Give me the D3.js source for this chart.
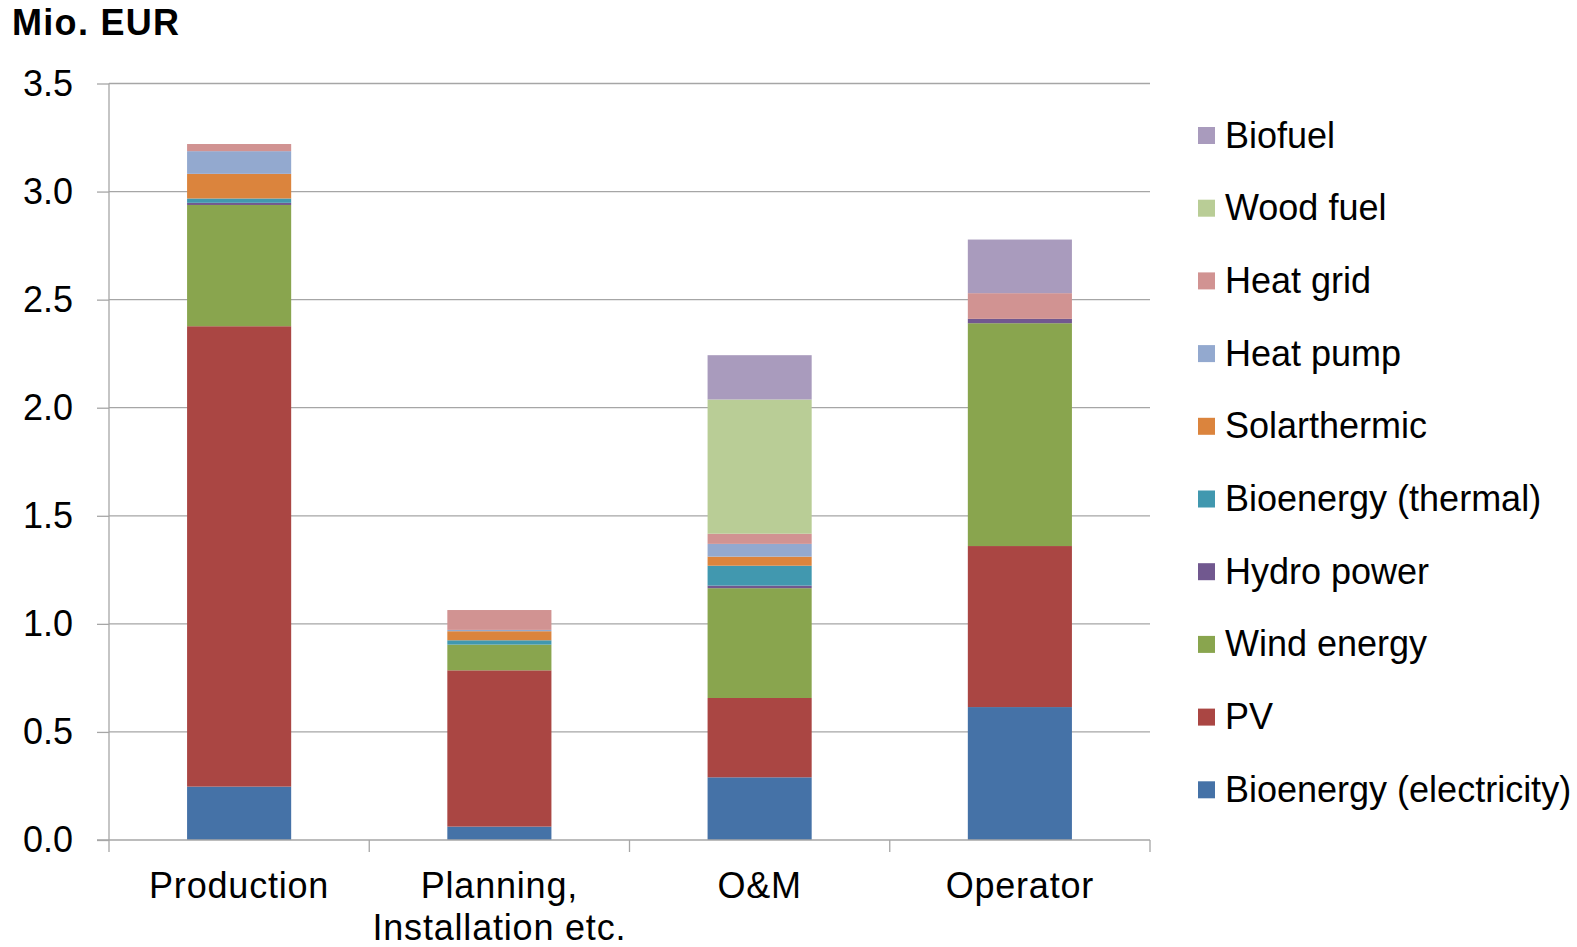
<!DOCTYPE html>
<html>
<head>
<meta charset="utf-8">
<script src="https://cdn.jsdelivr.net/npm/d3@7"></script>
<style>
  body { margin: 0; background: #fff; }
  text { font-family: "Liberation Sans", Arial, sans-serif; fill: #000; }
</style>
</head>
<body>
<svg id="chart"></svg>
<script>
// categories on the x axis (multi-line labels)
const categories = ['Production', 'Planning, Installation etc.', 'O&M', 'Operator'];
const categoryLines = [['Production'], ['Planning,', 'Installation etc.'], ['O&M'], ['Operator']];

// series, bottom to top of the stack
const seriesNames = ['Bioenergy (electricity)', 'PV', 'Wind energy', 'Hydro power', 'Bioenergy (thermal)',
    'Solarthermic', 'Heat pump', 'Heat grid', 'Wood fuel', 'Biofuel'];
const seriesColors = ['#4572A7', '#AA4643', '#89A54E', '#71588F', '#4198AF',
    '#DB843D', '#93A9CF', '#D19392', '#B9CD96', '#A99BBD'];

// values per series, one per category (Mio. EUR)
const bioElectricity = [0.247, 0.062, 0.290, 0.615];
const pv             = [2.130, 0.723, 0.367, 0.745];
const wind           = [0.561, 0.119, 0.508, 1.031];
const hydro          = [0.010, 0.000, 0.012, 0.020];
const bioThermal     = [0.020, 0.020, 0.092, 0.000];
const solarthermic   = [0.114, 0.042, 0.042, 0.000];
const heatPump       = [0.105, 0.006, 0.059, 0.000];
const heatGrid       = [0.033, 0.092, 0.047, 0.119];
const woodFuel       = [0.000, 0.000, 0.621, 0.000];
const biofuel        = [0.000, 0.000, 0.205, 0.248];

const yTicks = [0, 0.5, 1.0, 1.5, 2.0, 2.5, 3.0, 3.5];

const seriesValues = [bioElectricity, pv, wind, hydro, bioThermal, solarthermic, heatPump, heatGrid, woodFuel, biofuel];

const width = 1577, height = 947;
const margin = { top: 83.5, right: 427, bottom: 107, left: 109 };

const svg = d3.select('#chart').attr('width', width).attr('height', height);

// table for the stack layout
const table = categories.map((c, i) => {
    const row = { category: c };
    seriesNames.forEach((s, j) => { row[s] = seriesValues[j][i]; });
    return row;
});
const stacked = d3.stack().keys(seriesNames)(table);

const x = d3.scaleBand()
    .domain(categories)
    .range([margin.left, width - margin.right])
    .paddingInner(0.6)
    .paddingOuter(0.3);

const y = d3.scaleLinear()
    .domain([0, 3.5])
    .range([height - margin.bottom, margin.top]);

const color = d3.scaleOrdinal().domain(seriesNames).range(seriesColors);

// gridlines
svg.append('g')
    .selectAll('line')
    .data(yTicks.slice(1))
    .join('line')
    .attr('x1', margin.left)
    .attr('x2', width - margin.right)
    .attr('y1', d => y(d))
    .attr('y2', d => y(d))
    .attr('stroke', '#a6a6a6')
    .attr('stroke-width', 1.3);

// bars
svg.append('g')
    .selectAll('g')
    .data(stacked)
    .join('g')
    .attr('fill', d => color(d.key))
    .selectAll('rect')
    .data(d => d)
    .join('rect')
    .attr('x', d => x(d.data.category))
    .attr('width', x.bandwidth())
    .attr('y', d => y(d[1]))
    .attr('height', d => y(d[0]) - y(d[1]));

// y axis
const yAxis = svg.append('g')
    .attr('transform', `translate(${margin.left},0)`)
    .call(d3.axisLeft(y).tickValues(yTicks).tickFormat(d3.format('.1f')).tickSize(12).tickPadding(24));
yAxis.selectAll('line, path').attr('stroke', '#a6a6a6').attr('stroke-width', 1.3);
yAxis.select('.domain').attr('d', `M0,${y(3.5)}V${y(0)}`);
yAxis.selectAll('text').attr('font-size', 36).attr('font-family', '"Liberation Sans", Arial, sans-serif').attr('fill', '#000');

// x axis with ticks at category boundaries
const xAxisG = svg.append('g');
xAxisG.append('line')
    .attr('x1', margin.left - 12).attr('x2', width - margin.right)
    .attr('y1', y(0)).attr('y2', y(0))
    .attr('stroke', '#a6a6a6').attr('stroke-width', 1.3);
const step = x.step();
const boundaries = d3.range(categories.length + 1).map(i => margin.left + i * step);
xAxisG.selectAll('line.tick')
    .data(boundaries)
    .join('line')
    .attr('class', 'tick')
    .attr('x1', d => d).attr('x2', d => d)
    .attr('y1', y(0)).attr('y2', y(0) + 12)
    .attr('stroke', '#a6a6a6').attr('stroke-width', 1.3);

xAxisG.selectAll('text')
    .data(categories)
    .join('text')
    .attr('text-anchor', 'middle')
    .attr('font-size', 36)
    .attr('letter-spacing', 0.8)
    .attr('x', d => x(d) + x.bandwidth() / 2)
    .attr('y', 898)
    .selectAll('tspan')
    .data((d, i) => categoryLines[i])
    .join('tspan')
    .attr('x', function () { return d3.select(this.parentNode).attr('x'); })
    .attr('dy', (d, i) => i === 0 ? 0 : 42)
    .text(d => d);

// unit label
svg.append('text')
    .attr('x', 12)
    .attr('y', 35)
    .attr('font-size', 36)
    .attr('letter-spacing', 1.3)
    .attr('font-weight', 'bold')
    .text('Mio. EUR');

// legend, top item is last series
const legendItems = seriesNames.slice().reverse();
const legend = svg.append('g')
    .selectAll('g')
    .data(legendItems)
    .join('g')
    .attr('transform', (d, i) => `translate(1198, ${135.5 + i * 72.7})`);
legend.append('rect')
    .attr('x', 0).attr('y', -8.5)
    .attr('width', 17).attr('height', 17)
    .attr('fill', d => color(d));
legend.append('text')
    .attr('x', 27)
    .attr('y', 12)
    .attr('font-size', 36)
    .text(d => d);
</script>
</body>
</html>
